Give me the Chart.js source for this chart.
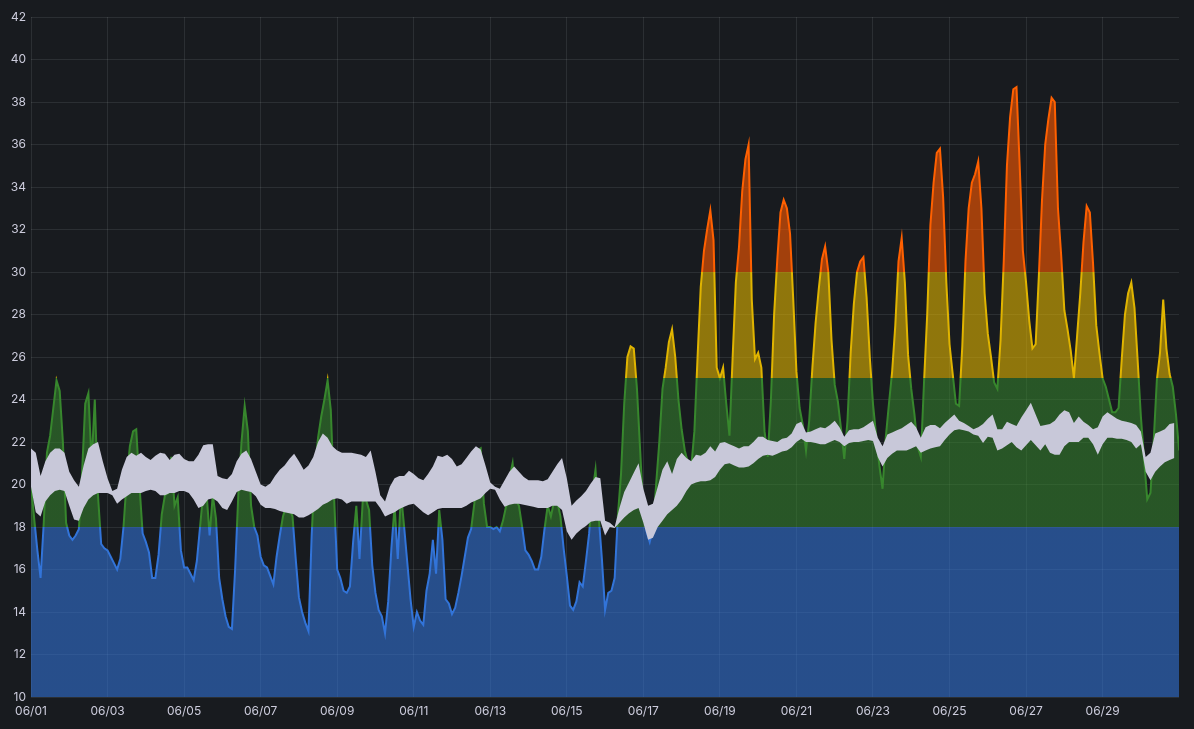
<!DOCTYPE html>
<html>
<head>
<meta charset="utf-8">
<script src="https://cdn.jsdelivr.net/npm/chart.js@4.4.1/dist/chart.umd.min.js"></script>
<style>
html,body{margin:0;padding:0;background:#181b1f;overflow:hidden}
canvas{display:block}
</style>
</head>
<body>
<canvas id="c" width="1194" height="729"></canvas>
<script>
// ---- data ----
const tempStepHours = 2; // one reading every 2 hours starting 06/01 00:00
const temperature = [
  20.0, 18.4, 16.9, 15.6, 18.2, 21.5, 22.3, 23.6, 24.9, 24.4, 22.0, 18.2,
  17.6, 17.4, 17.6, 17.9, 20.5, 23.8, 24.3, 21.0, 24.0, 19.5, 17.2, 17.0,
  16.9, 16.6, 16.3, 16.0, 16.5, 18.0, 20.2, 21.8, 22.5, 22.6, 20.0, 17.7,
  17.3, 16.8, 15.6, 15.6, 16.7, 18.6, 19.5, 19.6, 21.3, 19.0, 19.4, 16.9,
  16.1, 16.1, 15.8, 15.5, 16.4, 18.0, 19.6, 19.7, 17.6, 19.5, 18.4, 15.6,
  14.6, 13.8, 13.3, 13.2, 16.0, 19.5, 22.0, 23.7, 22.5, 19.0, 18.0, 17.6,
  16.6, 16.2, 16.1, 15.7, 15.3, 16.6, 17.6, 18.5, 19.0, 18.9, 18.5, 16.5,
  14.7, 14.0, 13.5, 13.1, 17.6, 20.7, 22.2, 23.2, 24.0, 24.9, 23.5, 19.5,
  16.0, 15.6, 15.0, 14.9, 15.2, 17.3, 19.0, 16.5, 19.2, 19.3, 18.8, 16.2,
  14.9, 14.1, 13.8, 13.0, 14.5, 17.0, 19.0, 16.5, 19.6, 18.0, 16.3, 14.6,
  13.3, 14.0, 13.6, 13.4, 15.0, 15.8, 17.4, 15.8, 18.8, 17.4, 14.6, 14.4,
  13.9, 14.2, 14.9, 15.7, 16.6, 17.5, 17.9, 19.1, 21.6, 21.7, 19.1, 18.0,
  18.0, 17.9, 18.0, 17.8, 18.3, 19.0, 20.3, 21.0, 19.3, 19.0, 18.0, 16.9,
  16.7, 16.4, 16.0, 16.0, 16.6, 17.9, 19.0, 18.5, 19.2, 19.2, 18.5, 17.0,
  15.7, 14.3, 14.1, 14.5, 15.4, 15.2, 16.4, 17.7, 19.6, 20.7, 18.5, 16.5,
  14.1, 14.9, 15.0, 15.6, 18.5, 20.5, 23.8, 26.0, 26.5, 26.4, 24.5, 21.6,
  18.7, 17.8, 17.3, 17.9, 20.0, 22.0, 24.5, 25.5, 26.7, 27.3, 26.0, 24.0,
  22.6, 21.6, 21.0, 20.8, 22.5, 26.0, 29.3, 31.0, 32.0, 32.9, 31.5, 25.5,
  25.0, 25.5, 23.8, 22.3, 26.0, 29.5, 31.2, 33.8, 35.3, 36.0, 28.7, 25.9,
  26.2, 25.5, 22.5, 21.3, 24.0, 28.0, 30.6, 32.8, 33.4, 33.0, 31.8, 28.7,
  25.3, 23.6, 22.8, 21.6, 23.0, 25.5, 27.6, 29.2, 30.6, 31.2, 30.0, 26.8,
  24.7, 23.9, 22.6, 21.2, 23.0, 26.2, 28.5, 30.0, 30.5, 30.7, 28.8, 26.0,
  23.8, 22.3, 20.9, 19.8, 22.2, 23.8, 25.3, 27.5, 30.5, 31.6, 29.5, 26.1,
  24.5, 23.3, 21.8, 21.3, 24.8, 28.0, 32.2, 34.2, 35.6, 35.8, 33.5, 29.5,
  26.6, 25.2, 23.8, 23.7, 26.5, 30.5, 33.0, 34.2, 34.6, 35.2, 33.0, 29.0,
  27.1, 26.0, 24.8, 24.5, 26.8, 30.5, 35.0, 37.3, 38.6, 38.7, 35.0, 31.0,
  29.5, 27.7, 26.4, 26.6, 29.8, 33.4, 36.0, 37.2, 38.2, 38.0, 33.0, 30.8,
  28.2, 27.3, 26.3, 25.0, 27.0, 29.0, 31.4, 33.1, 32.8, 30.4, 27.5, 26.2,
  25.0, 24.6, 24.0, 23.4, 23.4, 23.6, 25.9, 28.0, 29.0, 29.5, 28.3, 25.8,
  23.2, 21.2, 19.3, 19.6, 22.0, 24.9, 26.2, 28.7, 26.4, 25.2, 24.6, 23.3,
  21.6
];

const bandStepHours = 3; // comparison range, one pair every 3 hours
const bandUpper = [
  21.7, 21.5, 20.4, 21.1, 21.5, 21.7, 21.7, 21.5,
  20.6, 20.2, 19.9, 20.9, 21.7, 21.9, 22.0, 21.1,
  20.3, 19.7, 19.8, 20.7, 21.3, 21.5, 21.35, 21.5,
  21.3, 21.15, 21.35, 21.5, 21.45, 21.15, 21.4, 21.45,
  21.2, 21.1, 21.1, 21.4, 21.85, 21.9, 21.9, 20.4,
  20.3, 20.25, 20.5, 21.1, 21.45, 21.6, 21.2, 20.6,
  20.0, 19.9, 20.05, 20.4, 20.7, 20.9, 21.2, 21.45,
  21.1, 20.7, 20.9, 21.3, 22.0, 22.4, 22.2, 21.8,
  21.6, 21.5, 21.5, 21.5, 21.45, 21.4, 21.3, 21.6,
  20.6, 19.5, 19.2, 19.9, 20.3, 20.4, 20.4, 20.65,
  20.5, 20.3, 20.2, 20.5, 20.85, 21.35, 21.3, 21.4,
  21.2, 20.85, 20.95, 21.25, 21.55, 21.8, 21.65, 20.9,
  20.1, 19.9, 19.8, 20.2, 20.6, 20.85, 20.6, 20.35,
  20.2, 20.2, 20.2, 20.15, 20.25, 20.6, 20.95, 21.25,
  20.3, 19.0, 19.25, 19.45, 19.7, 20.05, 20.35, 20.3,
  18.3, 18.2, 18.0, 18.9, 19.65, 20.1, 20.55, 21.0,
  19.8, 19.0, 19.1, 19.9, 20.7, 21.1, 20.5, 21.2,
  21.5, 21.25, 21.1, 21.4, 21.35, 21.5, 21.8, 21.55,
  21.95, 22.0, 21.9, 21.8, 21.7, 21.8, 21.8, 22.0,
  22.25, 22.25, 22.1, 22.05, 22.0, 22.15, 22.2, 22.4,
  22.85, 22.95, 22.45, 22.5, 22.6, 22.7, 22.65, 22.8,
  23.0, 22.7, 22.25, 22.55, 22.6, 22.6, 22.7, 22.85,
  23.0, 22.2, 21.8, 22.35, 22.45, 22.55, 22.65, 22.8,
  22.95, 22.7, 22.2, 22.7, 22.8, 22.8, 22.65, 22.9,
  23.1, 23.3, 23.0, 22.9, 22.75, 22.6, 22.7, 22.85,
  23.1, 23.3, 22.6, 22.6, 22.95, 22.85, 22.75, 23.15,
  23.5, 23.85, 23.3, 22.75, 22.8, 22.85, 23.0, 23.3,
  23.5, 23.4, 22.9, 23.2, 22.95, 22.8, 22.6, 22.7,
  23.2, 23.4, 23.25, 23.1, 23.0, 22.95, 22.9, 22.8,
  22.5, 21.3, 21.5, 22.4, 22.5, 22.6, 22.85, 22.9
];
const bandLower = [
  19.9, 18.7, 18.5, 19.2, 19.5, 19.7, 19.75, 19.7,
  19.0, 18.35, 18.3, 18.9, 19.3, 19.5, 19.6, 19.6,
  19.6, 19.5, 19.1, 19.3, 19.45, 19.6, 19.6, 19.6,
  19.7, 19.75, 19.7, 19.5, 19.5, 19.6, 19.6, 19.7,
  19.7, 19.6, 19.3, 18.9, 19.0, 19.3, 19.35, 19.2,
  18.9, 18.8, 19.2, 19.65, 19.75, 19.7, 19.65, 19.45,
  19.05, 18.9, 18.9, 18.85, 18.75, 18.7, 18.65, 18.6,
  18.45, 18.45, 18.55, 18.7, 18.85, 19.05, 19.15, 19.3,
  19.35, 19.3, 19.1, 19.2, 19.2, 19.2, 19.2, 19.2,
  19.2, 18.9, 18.5, 18.6, 18.7, 18.85, 18.95, 19.05,
  19.1, 18.9, 18.7, 18.55, 18.7, 18.85, 18.9, 18.9,
  18.9, 18.9, 18.9, 19.0, 19.15, 19.25, 19.35, 19.6,
  19.8, 19.75, 19.3, 18.95, 19.05, 19.1, 19.1, 19.05,
  19.0, 18.95, 18.9, 18.9, 18.9, 19.0, 19.0, 18.8,
  17.8, 17.4, 17.7, 17.9, 18.05, 18.25, 18.3, 18.3,
  17.6, 18.0, 17.95, 18.2, 18.45, 18.65, 18.8, 18.9,
  18.2, 17.4, 17.5, 18.0, 18.3, 18.6, 18.8, 19.0,
  19.3, 19.7, 20.0, 20.1, 20.15, 20.15, 20.2, 20.35,
  20.7, 20.95, 21.0, 20.9, 20.8, 20.8, 20.85, 21.0,
  21.2, 21.35, 21.4, 21.35, 21.45, 21.55, 21.6, 21.75,
  22.0, 22.15, 22.0, 22.0, 21.95, 21.9, 21.9, 22.0,
  22.1, 22.0, 21.8, 21.95, 22.0, 22.0, 22.05, 22.1,
  22.05, 21.3, 20.85, 21.25, 21.45, 21.6, 21.6, 21.6,
  21.7, 21.8, 21.5, 21.6, 21.7, 21.75, 21.8, 22.1,
  22.35, 22.55, 22.6, 22.55, 22.5, 22.35, 22.3, 21.95,
  22.25, 22.2, 21.6, 21.7, 21.85, 22.0, 21.75, 21.6,
  21.85, 22.1, 21.85, 21.6, 21.9, 21.5, 21.4, 21.4,
  21.8, 22.0, 22.0, 22.0, 22.2, 22.2, 21.9, 21.4,
  21.9, 22.2, 22.2, 22.15, 22.15, 22.1, 22.0, 21.7,
  21.9, 20.6, 20.2, 20.6, 20.85, 21.05, 21.15, 21.25
];

const xTickStepHours = 48;
const xTickLabels = ['06/01','06/03','06/05','06/07','06/09','06/11','06/13','06/15',
                     '06/17','06/19','06/21','06/23','06/25','06/27','06/29'];
const yMin = 10, yMax = 42, yStep = 2;
const thresholds = [18, 25, 30];

// ---- styles ----
const lineColors = ['#3274d9', '#37872d', '#e0b400', '#ff6000'];
const fillColors = ['rgba(50,116,217,0.58)', 'rgba(55,135,45,0.55)', 'rgba(224,180,0,0.6)', 'rgba(255,90,0,0.6)'];
const bandColor = 'rgb(200,200,217)';
const textColor = '#ccccdc';
const gridColor = 'rgba(240,250,255,0.09)';
const fontSpec = { family: 'Inter', size: 12 };

function zoneGradient(chart, colors) {
  const area = chart.chartArea;
  if (!area) return colors[0];
  const y = chart.scales.y;
  const g = chart.ctx.createLinearGradient(0, area.bottom, 0, area.top);
  const frac = v => Math.min(1, Math.max(0, (area.bottom - y.getPixelForValue(v)) / (area.bottom - area.top)));
  let prev = 0;
  colors.forEach((c, i) => {
    const end = i < thresholds.length ? frac(thresholds[i]) : 1;
    g.addColorStop(prev, c);
    g.addColorStop(end, c);
    prev = end;
  });
  return g;
}

const tempPoints = temperature.map((v, i) => ({ x: i * tempStepHours, y: v }));
const upperPoints = bandUpper.map((v, i) => ({ x: i * bandStepHours, y: v }));
const lowerPoints = bandLower.map((v, i) => ({ x: i * bandStepHours, y: v }));

new Chart(document.getElementById('c'), {
  type: 'line',
  data: {
    datasets: [
      { label: 'range low', data: lowerPoints, borderWidth: 0, borderColor: 'rgba(0,0,0,0)',
        pointRadius: 0, fill: false },
      { label: 'range high', data: upperPoints, borderWidth: 0, borderColor: 'rgba(0,0,0,0)',
        pointRadius: 0, fill: '-1', backgroundColor: bandColor },
      { label: 'temperature', data: tempPoints, borderWidth: 2,
        borderColor: c => zoneGradient(c.chart, lineColors),
        backgroundColor: c => zoneGradient(c.chart, fillColors),
        pointRadius: 0, fill: 'start', tension: 0 }
    ]
  },
  options: {
    responsive: false,
    animation: false,
    events: [],
    layout: { padding: { top: 17, right: 15, left: 0, bottom: 0 } },
    plugins: { legend: { display: false }, tooltip: { enabled: false } },
    scales: {
      x: {
        type: 'linear', min: 0, max: 719.9,
        afterBuildTicks: s => { s.ticks = xTickLabels.map((_, i) => ({ value: i * xTickStepHours })); },
        afterFit: s => { s.height = 32; },
        ticks: { callback: (v, i) => xTickLabels[i], color: textColor, font: fontSpec,
                 padding: 7, maxRotation: 0, autoSkip: false },
        grid: { color: gridColor, drawTicks: false },
        border: { display: false }
      },
      y: {
        min: yMin, max: yMax,
        afterFit: s => { s.width = 31; },
        ticks: { stepSize: yStep, color: textColor, font: fontSpec, padding: 5 },
        grid: { color: gridColor, drawTicks: false },
        border: { display: false }
      }
    }
  }
});
</script>
</body>
</html>
